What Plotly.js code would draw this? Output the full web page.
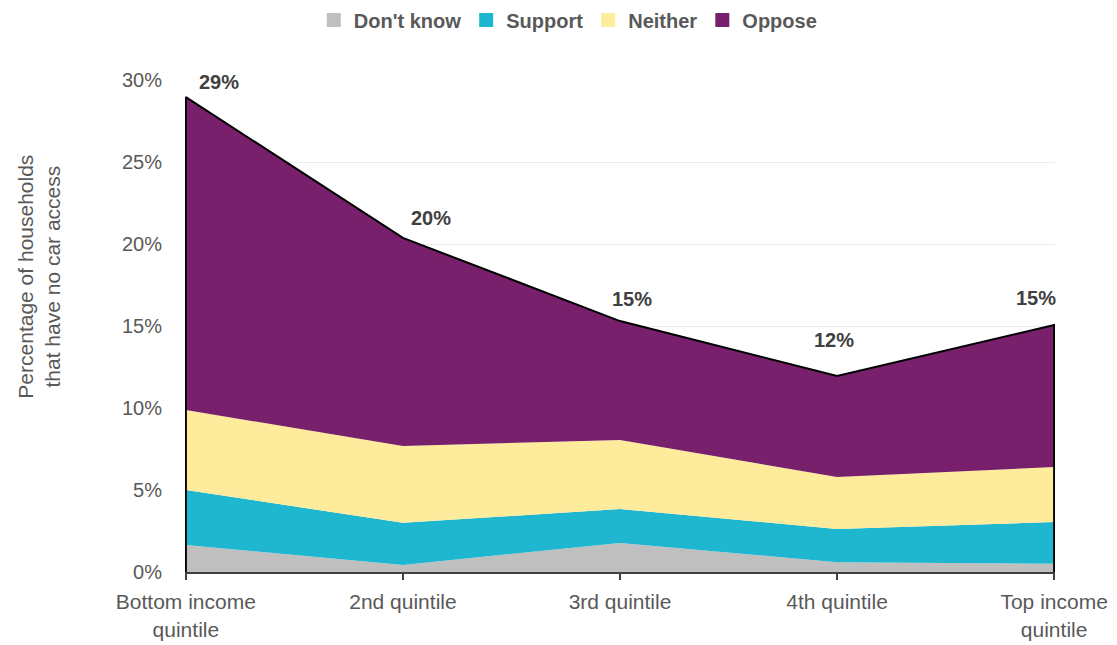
<!DOCTYPE html>
<html>
<head>
<meta charset="utf-8">
<script src="https://cdn.plot.ly/plotly-3.0.1.min.js"></script>
<style>html,body{margin:0;padding:0;background:#fff}#chart{width:1117px;height:645px}</style>
</head>
<body>
<div id="chart"></div>
<script>
const categories = ["Bottom income<br>quintile", "2nd quintile", "3rd quintile", "4th quintile", "Top income<br>quintile"];
const dontKnow = [1.65, 0.43, 1.77, 0.60, 0.50];
const support  = [3.35, 2.57, 2.07, 2.02, 2.55];
const neither  = [4.88, 4.68, 4.21, 3.17, 3.35];
const oppose   = [19.08, 12.69, 7.25, 6.16, 8.66];
const yTickVals = [0, 5, 10, 15, 20, 25, 30];
const yTickText = ["0%", "5%", "10%", "15%", "20%", "25%", "30%"];

const xs = categories.map((_, i) => i);
const total = xs.map(i => dontKnow[i] + support[i] + neither[i] + oppose[i]);

const seriesDefs = [
  {name: "Don't know", y: dontKnow, color: "#bfbfbf"},
  {name: "Support", y: support, color: "#1fb7cf"},
  {name: "Neither", y: neither, color: "#feeb9b"},
  {name: "Oppose", y: oppose, color: "#78206c"}
];

const traces = [];
seriesDefs.forEach(s => {
  traces.push({
    type: "scatter", mode: "lines", x: xs, y: s.y, stackgroup: "one",
    fillcolor: s.color, line: {width: 0, color: s.color},
    showlegend: false, hoverinfo: "skip", name: s.name
  });
});
// total outline
const ox = [xs[0]].concat(xs, [xs[xs.length - 1]]);
const oy = [0].concat(total, [0]);
traces.push({type: "scatter", mode: "lines", x: ox, y: oy, line: {color: "#000", width: 2},
  showlegend: false, hoverinfo: "skip"});
// legend entries
seriesDefs.forEach(s => {
  traces.push({type: "scatter", mode: "markers", x: [null], y: [null], name: s.name,
    marker: {symbol: "square", size: 14, color: s.color}, showlegend: true});
});

const labelXShift = [33, 28, 12, -3, -18];
const labelYShift = [15, 20, 22, 36, 27];
const annotations = xs.map(i => ({
  x: xs[i], y: total[i], xref: "x", yref: "y", text: Math.round(total[i]) + "%",
  showarrow: false, xshift: labelXShift[i], yshift: labelYShift[i], yanchor: "middle",
  font: {family: "Liberation Sans, Arial, sans-serif", size: 20, color: "#404040", weight: "bold"}
}));
annotations.push({
  xref: "paper", yref: "paper", x: -0.168, y: 0.6, textangle: -90, showarrow: false,
  text: "Percentage of households<br>that have no car access",
  font: {family: "Liberation Sans, Arial, sans-serif", size: 21, color: "#595959"},
  xanchor: "center", yanchor: "middle"
});

const layout = {
  width: 1117, height: 645,
  margin: {l: 185, r: 62, t: 80, b: 73, autoexpand: false},
  paper_bgcolor: "#fff", plot_bgcolor: "#fff",
  font: {family: "Liberation Sans, Arial, sans-serif", size: 20, color: "#595959"},
  xaxis: {
    range: [-0.004, 4.004], tickvals: xs, ticktext: categories, showgrid: false, zeroline: false,
    showline: true, linecolor: "#404040", linewidth: 2, ticks: "outside", ticklen: 6,
    tickwidth: 2, tickcolor: "#404040", fixedrange: true, ticklabelstandoff: 4,
    tickfont: {size: 21, color: "#595959"}
  },
  yaxis: {
    range: [0, 30], tickvals: yTickVals, ticktext: yTickText, showgrid: true,
    gridcolor: "#ececec", gridwidth: 1, zeroline: false, showline: false,
    ticks: "", ticklabelstandoff: 22, tickfont: {size: 20, color: "#595959"}
  },
  legend: {
    orientation: "h", x: 0.44, xanchor: "center", y: 1.122, yanchor: "middle",
    font: {family: "Liberation Sans, Arial, sans-serif", size: 20, color: "#595959", weight: "bold"},
    itemwidth: 30, traceorder: "normal"
  },
  annotations: annotations,
  showlegend: true
};

Plotly.newPlot("chart", traces, layout, {displayModeBar: false, staticPlot: true});
</script>
</body>
</html>
